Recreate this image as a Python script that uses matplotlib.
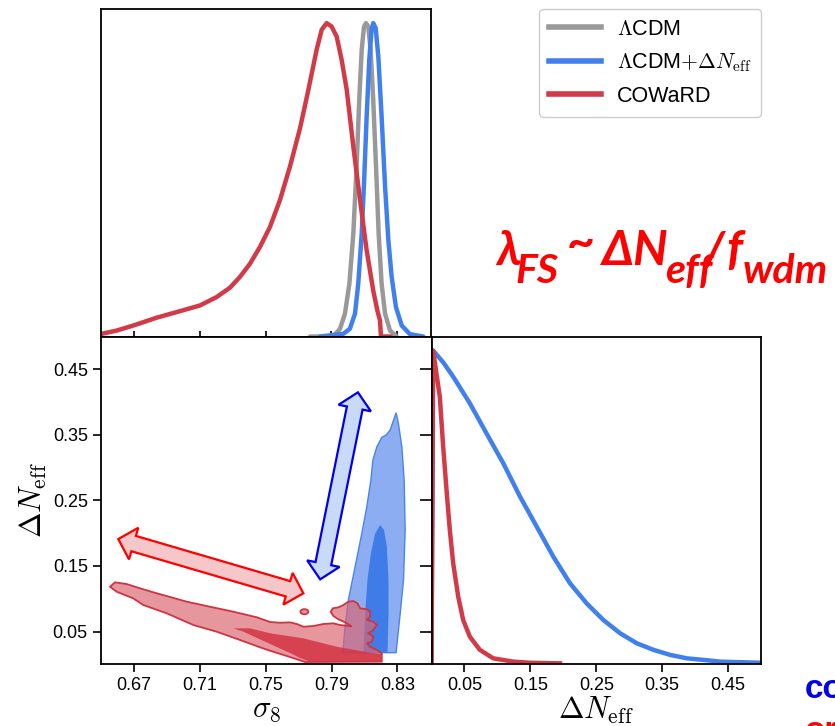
import numpy as np
import matplotlib
matplotlib.use('Agg')
import matplotlib.pyplot as plt
from matplotlib.patches import Polygon, Ellipse
from matplotlib.lines import Line2D
from matplotlib.transforms import IdentityTransform

# ---- 1D posterior of sigma_8 (normalised to peak = 1) ----
s8_lcdm = [0.7770, 0.7911, 0.7952, 0.7982, 0.8009, 0.8033, 0.8053, 0.8069, 0.8084, 0.8098,
           0.8110, 0.8124, 0.8138, 0.8154, 0.8171, 0.8187, 0.8205, 0.8226, 0.8256, 0.8296]
p_lcdm = [0.0, 0.0, 0.0245, 0.0725, 0.168, 0.328, 0.542, 0.755, 0.915, 0.989,
          1.0, 0.989, 0.915, 0.755, 0.542, 0.328, 0.168, 0.0725, 0.019, 0.0]

s8_dneff = [0.7831, 0.7972, 0.8012, 0.8043, 0.8063, 0.8084, 0.8098, 0.8114, 0.8130, 0.8144,
            0.8154, 0.8169, 0.8185, 0.8205, 0.8226, 0.8246, 0.8266, 0.8292, 0.8327, 0.8377, 0.8458]
p_dneff = [0.0, 0.0085, 0.0245, 0.0725, 0.168, 0.328, 0.488, 0.701, 0.883, 0.979,
           1.0, 0.984, 0.893, 0.701, 0.478, 0.307, 0.190, 0.094, 0.035, 0.0075, 0.0]

s8_coward = [0.6504, 0.6595, 0.6696, 0.6838, 0.6960, 0.7101, 0.7203, 0.7284, 0.7344, 0.7405,
             0.7466, 0.7527, 0.7587, 0.7648, 0.7709, 0.7760, 0.7810, 0.7841, 0.7871, 0.7901,
             0.7932, 0.7962, 0.7993, 0.8033, 0.8074, 0.8114, 0.8154, 0.8179, 0.8195, 0.8201, 0.8260]
p_coward = [0.0085, 0.019, 0.035, 0.060, 0.078, 0.099, 0.126, 0.156, 0.190, 0.232,
            0.286, 0.350, 0.435, 0.542, 0.664, 0.787, 0.915, 0.979, 1.0, 0.989,
            0.957, 0.883, 0.787, 0.606, 0.435, 0.275, 0.147, 0.083, 0.051, 0.0, 0.0]

# ---- 1D posterior of Delta N_eff ----
dn_dneff = [0.0, 0.0025, 0.0180, 0.0329, 0.0582, 0.0835, 0.1089, 0.1342, 0.1596, 0.1849, 0.2102,
            0.2355, 0.2609, 0.2862, 0.3115, 0.3369, 0.3622, 0.3875, 0.4128, 0.4382, 0.4990]
pdn_dneff = [0.0, 1.0, 0.962, 0.917, 0.832, 0.736, 0.641, 0.535, 0.439, 0.343, 0.258,
             0.194, 0.141, 0.099, 0.067, 0.046, 0.030, 0.019, 0.014, 0.0085, 0.005]

dn_coward = [0.0, 0.0025, 0.0126, 0.0177, 0.0228, 0.0278, 0.0329, 0.0405, 0.0481, 0.0582,
             0.0734, 0.0937, 0.1241, 0.1494, 0.1950]
pdn_coward = [0.0, 1.0, 0.853, 0.694, 0.556, 0.428, 0.322, 0.216, 0.141, 0.088,
              0.046, 0.019, 0.0085, 0.005, 0.003]

# ---- 2D contours (sigma_8, Delta N_eff) ----
blue_outer_s8 = [0.7968, 0.7982, 0.8002, 0.8043, 0.8084, 0.8114, 0.8139, 0.8151, 0.8175, 0.8205,
                 0.8231, 0.8256, 0.8292, 0.8306, 0.8327, 0.8341, 0.8347, 0.8337, 0.8317, 0.8292]
blue_outer_dn = [0.0177, 0.0573, 0.0980, 0.1488, 0.1998, 0.2403, 0.2810, 0.3115, 0.3318, 0.3461,
                 0.3497, 0.3573, 0.3837, 0.3675, 0.3318, 0.2810, 0.2048, 0.1285, 0.0778, 0.0177]

blue_inner_s8 = [0.8094, 0.8104, 0.8118, 0.8139, 0.8165, 0.8195, 0.8219, 0.8236, 0.8246, 0.8246, 0.8240]
blue_inner_dn = [0.0177, 0.0778, 0.1285, 0.1693, 0.1998, 0.2124, 0.2048, 0.1793, 0.1285, 0.0778, 0.0177]

red_outer_s8 = [0.6555, 0.6585, 0.6656, 0.6737, 0.6818, 0.6899, 0.7021, 0.7162, 0.7304, 0.7446,
                0.7527, 0.7587, 0.7648, 0.7689, 0.7729, 0.7790, 0.7851, 0.7911, 0.7952, 0.8023,
                0.7982, 0.7942, 0.7911, 0.7895, 0.7908, 0.7942, 0.7972, 0.8002, 0.8033, 0.8057,
                0.8074, 0.8114, 0.8134, 0.8134, 0.8114, 0.8154, 0.8175, 0.8154, 0.8124, 0.8154,
                0.8145, 0.8114, 0.8134, 0.8175, 0.8205, 0.8205,
                0.7739, 0.7648, 0.7527, 0.7466, 0.7344, 0.7203, 0.7061, 0.6899, 0.6757, 0.6696, 0.6595]
red_outer_dn = [0.1183, 0.1250, 0.1224, 0.1159, 0.1098, 0.1041, 0.0955, 0.0878, 0.0802, 0.0717,
                0.0645, 0.0634, 0.0640, 0.0615, 0.0573, 0.0584, 0.0615, 0.0625, 0.0599, 0.0579,
                0.0640, 0.0686, 0.0737, 0.0802, 0.0854, 0.0869, 0.0904, 0.0955, 0.0965, 0.0930,
                0.0854, 0.0839, 0.0802, 0.0726, 0.0676, 0.0650, 0.0599, 0.0523, 0.0473, 0.0421,
                0.0345, 0.0320, 0.0268, 0.0218, 0.0168, 0.0040,
                0.0035, 0.0111, 0.0207, 0.0259, 0.0371, 0.0497, 0.0599, 0.0778, 0.0904, 0.1006, 0.1107]

red_inner_s8 = [0.7304, 0.7405, 0.7527, 0.7729, 0.7932, 0.8134, 0.8205, 0.8205,
                0.7770, 0.7709, 0.7648, 0.7527, 0.7365]
red_inner_dn = [0.0549, 0.0549, 0.0473, 0.0396, 0.0268, 0.0177, 0.0157, 0.0040,
                0.0040, 0.0096, 0.0172, 0.0310, 0.0497]

red_island = (0.7735, 0.0802)   # small isolated 2-sigma island

labels = [r'$\Lambda$CDM', r'$\Lambda$CDM$+\Delta N_{\rm eff}$', 'COWaRD']

GRAY = '#999999'
BLUE = '#4080ee'
RED = '#d23a48'

plt.rcParams['font.family'] = ['Liberation Sans', 'DejaVu Sans']
plt.rcParams['mathtext.fontset'] = 'cm'

W, H = 835, 726
fig = plt.figure(figsize=(W / 100, H / 100), dpi=100)


def px_axes(x0, y0, x1, y1):
    return fig.add_axes([x0 / W, 1 - y1 / H, (x1 - x0) / W, (y1 - y0) / H])


def fig_xy(x, y):
    return x / W, 1 - y / H


ax_top = px_axes(101, 9, 431, 336.5)
ax_2d = px_axes(101, 336.5, 431.5, 664.3)
ax_br = px_axes(431.5, 336.5, 761, 664.3)

s8_ticks = [0.67, 0.71, 0.75, 0.79, 0.83]
dn_ticks = [0.05, 0.15, 0.25, 0.35, 0.45]

for ax in (ax_top, ax_2d, ax_br):
    for sp in ax.spines.values():
        sp.set_linewidth(1.3)
    ax.tick_params(width=1.2, labelsize=13)

# top-left: sigma_8 1D
lw = 3.2
ax_top.plot(s8_lcdm, p_lcdm, color=GRAY, lw=lw, solid_capstyle='round')
ax_top.plot(s8_dneff, p_dneff, color=BLUE, lw=lw, solid_capstyle='round')
ax_top.plot(s8_coward, p_coward, color=RED, lw=lw, solid_capstyle='round')
ax_top.set_xlim(0.65, 0.8505)
ax_top.set_ylim(0, 1.045)
ax_top.set_xticks(s8_ticks)
ax_top.set_xticklabels([])
ax_top.set_yticks([])
ax_top.tick_params(axis='x', direction='inout', length=9)

# bottom-left: 2D contours
ax_2d.add_patch(Polygon(np.column_stack([blue_outer_s8, blue_outer_dn]), closed=True,
                        fc='#8dadf3', ec='#4a84ea', lw=1.0, zorder=2))
ax_2d.add_patch(Polygon(np.column_stack([blue_inner_s8, blue_inner_dn]), closed=True,
                        fc='#3f7ce8', ec='none', zorder=3))
ax_2d.add_patch(Polygon(np.column_stack([red_outer_s8, red_outer_dn]), closed=True,
                        fc=(0.86, 0.40, 0.44, 0.68), ec='#cf3442', lw=1.3, zorder=4))
ax_2d.add_patch(Polygon(np.column_stack([red_inner_s8, red_inner_dn]), closed=True,
                        fc=(0.83, 0.20, 0.26, 0.85), ec='none', zorder=5))
ax_2d.add_patch(Ellipse(red_island, 0.0048, 0.0078, fc=(0.86, 0.40, 0.44, 0.68),
                        ec='#cf3442', lw=1.3, zorder=4))
ax_2d.set_xlim(0.65, 0.8507)
ax_2d.set_ylim(0, 0.5)
ax_2d.set_xticks(s8_ticks)
ax_2d.set_yticks(dn_ticks)
ax_2d.set_xticklabels([f'{t:.2f}' for t in s8_ticks])
ax_2d.set_yticklabels([f'{t:.2f}' for t in dn_ticks])
ax_2d.tick_params(direction='out', length=5.5, pad=4)
ax_2d.tick_params(axis='y', right=True)
ax_2d.set_xlabel(r'$\sigma_8$', fontsize=22, labelpad=0)
ax_2d.set_ylabel(r'$\Delta N_{\rm eff}$', fontsize=22, labelpad=3)
for tl in ax_2d.yaxis.get_ticklines()[1::2]:
    tl.set_markersize(9)
    tl.set_marker(matplotlib.markers.TICKLEFT)


def double_arrow(ax, p0, p1, shaft, head_w, head_l, fc, ec):
    a, b = ax.transData.transform([p0, p1])
    u = (b - a) / np.hypot(*(b - a))
    n = np.array([-u[1], u[0]])
    pts = [a,
           a + u * head_l + n * head_w / 2, a + u * head_l + n * shaft / 2,
           b - u * head_l + n * shaft / 2, b - u * head_l + n * head_w / 2,
           b,
           b - u * head_l - n * head_w / 2, b - u * head_l - n * shaft / 2,
           a + u * head_l - n * shaft / 2, a + u * head_l - n * head_w / 2]
    ax.add_patch(Polygon(pts, closed=True, transform=IdentityTransform(),
                         fc=fc, ec=ec, lw=1.6, joinstyle='miter', zorder=6))


double_arrow(ax_2d, (0.7729, 0.1083), (0.6605, 0.191), 16, 33, 16, '#f5c7c9', '#ff0000')
double_arrow(ax_2d, (0.7831, 0.1296), (0.8060, 0.4148), 16, 33, 16, '#c8daf7', '#0000ee')

# bottom-right: Delta N_eff 1D
ax_br.plot(dn_dneff, pdn_dneff, color=BLUE, lw=lw)
ax_br.plot(dn_coward, pdn_coward, color=RED, lw=lw)
ax_br.set_xlim(0, 0.5)
ax_br.set_ylim(0, 1.045)
ax_br.set_xticks(dn_ticks)
ax_br.set_xticklabels([f'{t:.2f}' for t in dn_ticks])
ax_br.set_yticks([])
ax_br.tick_params(axis='x', direction='out', length=5.5, pad=4)
ax_br.set_xlabel(r'$\Delta N_{\rm eff}$', fontsize=22, labelpad=0)

# legend
handles = [Line2D([], [], color=c, lw=4) for c in (GRAY, BLUE, RED)]
fig.legend(handles, labels, loc='upper right', bbox_to_anchor=fig_xy(761, 9),
           borderaxespad=0, fontsize=15.5, handlelength=2.4, handletextpad=0.75,
           labelspacing=0.55, borderpad=0.45, edgecolor='#cccccc', framealpha=1, fancybox=True)

# formula annotation, pieces chained left to right
big = dict(color='#ff0000', fontweight='bold', fontstyle='italic',
           family=['Lato', 'Open Sans', 'DejaVu Sans'],
           transform=fig.transFigure, va='baseline', ha='left')
# (text, baseline y in px, relative size, gap before in px)
pieces = [('λ', 265, 1.0, 0), ('FS', 283, 0.85, -5), ('~', 258, 1.0, 8),
          ('ΔN', 265, 1.0, 6), ('eff', 283, 0.85, -3), ('/', 265, 1.0, -8),
          ('f', 265, 1.0, 2), ('wdm', 283, 0.85, 0)]
renderer = fig.canvas.get_renderer()


def place_formula(fs, x0):
    texts = []
    x = x0
    for s, yb, rel, gap in pieces:
        x += gap
        t = fig.text(*fig_xy(x, yb), s, fontsize=fs * rel, **big)
        x = t.get_window_extent(renderer).x1
        texts.append(t)
    return texts, x


texts, x_end = place_formula(40, 496)
width = x_end - 496
for t in texts:
    t.remove()
place_formula(40 * 332 / width, 496)

fig.text(*fig_xy(805, 698), 'co', color='#0000ee', fontsize=24, fontweight='bold',
         transform=fig.transFigure, va='baseline', ha='left')
fig.text(*fig_xy(805, 740), 'or', color='#ff0000', fontsize=24, fontweight='bold',
         transform=fig.transFigure, va='baseline', ha='left')

fig.savefig('out.png', dpi=100)
